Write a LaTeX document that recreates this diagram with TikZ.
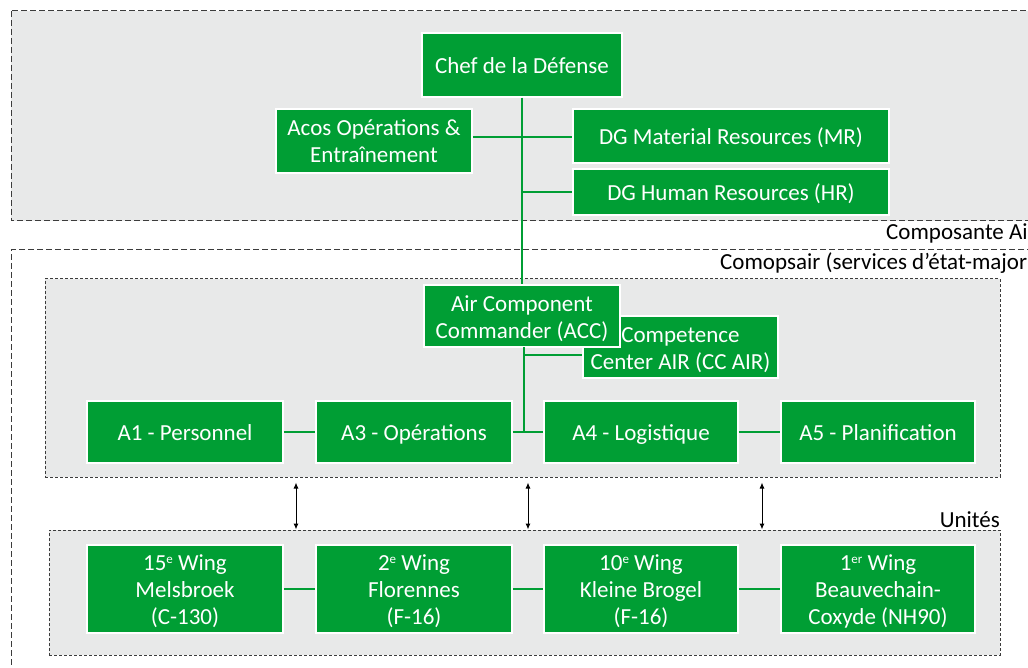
\documentclass[tikz,border=0pt]{standalone}
\usepackage{fontspec}
\setmainfont{Carlito}
\usetikzlibrary{arrows.meta,calc}
\definecolor{boxgreen}{RGB}{0,158,52}
\definecolor{panelgray}{RGB}{232,233,233}
\definecolor{dashgray}{RGB}{60,60,60}
\newcommand{\lnS}{\rule[-5pt]{0pt}{27pt}}
\newcommand{\supS}[1]{\raisebox{7pt}{\fontsize{13}{13}\selectfont #1}}
\tikzset{
  orgbox/.style={fill=boxgreen, draw=white, line width=1.5pt, text=white, align=center,
    inner sep=0pt, font=\fontsize{23}{27}\selectfont},
  conn/.style={draw=boxgreen, line width=2pt},
  outerpanel/.style={draw=dashgray, line width=1pt, dash pattern=on 6pt off 3pt},
  innerpanel/.style={draw=dashgray, line width=1pt, dash pattern=on 3pt off 2pt, fill=panelgray},
  arr/.style={draw=black, line width=1pt, {Latex[length=6pt,width=5pt]}-{Latex[length=6pt,width=5pt]}},
  paneltext/.style={font=\fontsize{23}{26}\selectfont, text=black, inner sep=0pt}
}
\begin{document}
\begin{tikzpicture}[x=1pt,y=-1pt]
\useasboundingbox (0,0) rectangle (1028,668);
% panels
\draw[outerpanel, fill=panelgray] (11,11) rectangle (1060,221);
\draw[outerpanel] (1060,250) -- (11,250) -- (11,700);
\node[innerpanel, minimum width=955pt, minimum height=198pt, inner sep=0pt] (staff) at (522.5,378) {};
\node[innerpanel, minimum width=951pt, minimum height=125pt, inner sep=0pt] (units) at (524.5,592.5) {};
\node[paneltext, anchor=base west] (lblair) at (886,240) {Composante Air};
\node[paneltext, anchor=base west] (lblcomop) at (720,270) {Comopsair (services d’état-major)};
\node[paneltext, anchor=base east] (lblunits) at (1000,527) {Unités};
% top nodes
\node[orgbox, minimum width=200pt, minimum height=64pt] (chef) at (522,65) {\lnS Chef de la Défense};
\node[orgbox, minimum width=196pt, minimum height=64pt] (acos) at (374,141) {\lnS Acos Opérations \&\\\lnS Entraînement};
\node[orgbox, minimum width=316pt, minimum height=54pt] (dgmr) at (731,136) {\lnS DG Material Resources (MR)};
\node[orgbox, minimum width=316pt, minimum height=46pt] (dghr) at (731,192) {\lnS DG Human Resources (HR)};
% staff nodes
\node[orgbox, minimum width=195pt, minimum height=62pt] (cc) at (680.5,347) {\lnS Competence\\\lnS Center AIR (CC AIR)};
\node[orgbox, minimum width=196pt, minimum height=62pt] (acc) at (522,316) {\lnS Air Component\\\lnS Commander (ACC)};
\node[orgbox, minimum width=196pt, minimum height=62pt] (a1) at (185,432) {\lnS A1 - Personnel};
\node[orgbox, minimum width=196pt, minimum height=62pt] (a3) at (414,432) {\lnS A3 - Opérations};
\node[orgbox, minimum width=194pt, minimum height=62pt] (a4) at (641,432) {\lnS A4 - Logistique};
\node[orgbox, minimum width=194pt, minimum height=62pt] (a5) at (878,432) {\lnS A5 - Planification};
% unit nodes
\node[orgbox, minimum width=196pt, minimum height=88pt] (w15) at (185,589) {\lnS 15\supS{e} Wing\\\lnS Melsbroek\\\lnS (C-130)};
\node[orgbox, minimum width=196pt, minimum height=88pt] (w2) at (414,589) {\lnS 2\supS{e} Wing\\\lnS Florennes\\\lnS (F-16)};
\node[orgbox, minimum width=194pt, minimum height=88pt] (w10) at (641,589) {\lnS 10\supS{e} Wing\\\lnS Kleine Brogel\\\lnS (F-16)};
\node[orgbox, minimum width=194pt, minimum height=88pt] (w1) at (878,589) {\lnS 1\supS{er} Wing\\\lnS Beauvechain-\\\lnS Coxyde (NH90)};
% connectors
\coordinate (accjoin) at (524,347);
\coordinate (ccjoin) at (524,355);
\draw[conn] (chef.south) -- (acc.north);
\draw[conn] (acos.east |- 0,137) -- (dgmr.west |- 0,137);
\draw[conn] (chef.south |- dghr.west) -- (dghr.west);
\draw[conn] (accjoin) -- (accjoin |- a3.east);
\draw[conn] (ccjoin) -- (ccjoin -| cc.west);
\draw[conn] (a1.east) -- (a3.west);
\draw[conn] (a3.east) -- (a4.west);
\draw[conn] (a4.east) -- (a5.west);
\draw[conn] (w15.east) -- (w2.west);
\draw[conn] (w2.east) -- (w10.west);
\draw[conn] (w10.east) -- (w1.west);
% arrows between panels
\coordinate (g1) at (296,0);
\coordinate (g2) at (528,0);
\coordinate (g3) at (762,0);
\draw[arr] (staff.south -| g1) ++(0,5) -- (units.north -| g1);
\draw[arr] (staff.south -| g2) ++(0,5) -- (units.north -| g2);
\draw[arr] (staff.south -| g3) ++(0,5) -- (units.north -| g3);
\end{tikzpicture}
\end{document}
